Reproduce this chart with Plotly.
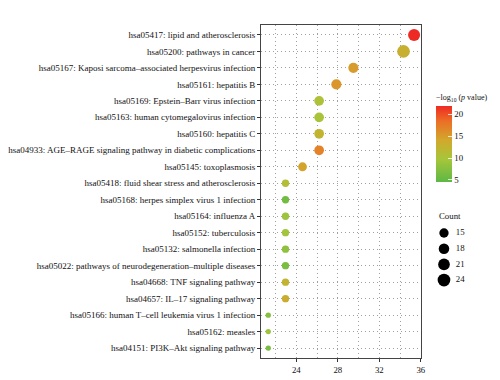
import plotly.graph_objects as go
import numpy as np

pathways = [
    "hsa05417: lipid and atherosclerosis",
    "hsa05200: pathways in cancer",
    "hsa05167: Kaposi sarcoma\u2013associated herpesvirus infection",
    "hsa05161: hepatitis B",
    "hsa05169: Epstein\u2013Barr virus infection",
    "hsa05163: human cytomegalovirus infection",
    "hsa05160: hepatitis C",
    "hsa04933: AGE\u2013RAGE signaling pathway in diabetic complications",
    "hsa05145: toxoplasmosis",
    "hsa05418: fluid shear stress and atherosclerosis",
    "hsa05168: herpes simplex virus 1 infection",
    "hsa05164: influenza A",
    "hsa05152: tuberculosis",
    "hsa05132: salmonella infection",
    "hsa05022: pathways of neurodegeneration\u2013multiple diseases",
    "hsa04668: TNF signaling pathway",
    "hsa04657: IL\u201317 signaling pathway",
    "hsa05166: human T\u2013cell leukemia virus 1 infection",
    "hsa05162: measles",
    "hsa04151: PI3K\u2013Akt signaling pathway",
]
x_values = [35.35, 34.33, 29.5, 27.86, 26.2, 26.2, 26.2, 26.2, 24.6,
            22.96, 22.96, 22.96, 22.96, 22.96, 22.96, 22.96, 22.96,
            21.3, 21.3, 21.3]
neg_log_p = [22.0, 13.0, 15.0, 15.5, 10.5, 10.0, 12.5, 17.0, 14.5,
             11.0, 6.0, 9.0, 9.5, 8.0, 6.5, 12.5, 13.5, 7.5, 9.0, 6.5]
counts = [22, 24, 17, 17, 16, 16, 16, 16, 14,
          11, 11, 11, 11, 11, 11, 11, 11, 8, 8, 8]
legend_counts = [15, 18, 21, 24]
x_ticks = [24, 28, 32, 36]
cbar_ticks = [5, 10, 15, 20]


def size_of(c):
    return float(np.sqrt(8.3 * c - 38.0))


colorscale = [
    [0.0, "#5DB845"],
    [0.3, "#A6C63A"],
    [0.55, "#D2A82C"],
    [0.8, "#EC6E26"],
    [1.0, "#EE2A24"],
]

FONT = "Liberation Serif"
FS = 8.8
FS_Y = 9
TXT = "#111111"
W, H = 500, 380
ML, MR, MT, MB = 253, 0, 17, 30
paper_w = W - ML - MR
paper_h = H - MT - MB
plot_w = 163

fig = go.Figure()
fig.add_trace(go.Scatter(
    x=x_values, y=pathways, mode="markers",
    marker=dict(
        size=[size_of(c) for c in counts],
        color=neg_log_p, colorscale=colorscale, cmin=4.5, cmax=22,
        line=dict(width=0), opacity=1,
        colorbar=dict(
            x=(431 - ML) / paper_w, xanchor="left", xpad=0, ypad=0,
            y=(H - MB - 128.5) / paper_h, yanchor="middle",
            len=91, lenmode="pixels", thickness=16, thicknessmode="pixels",
            outlinewidth=0, ticks="inside", ticklen=4, tickcolor="rgba(255,255,255,0.8)",
            tickvals=cbar_ticks, tickfont=dict(family=FONT, size=FS, color=TXT),
            title=dict(text="\u2212log<sub>10</sub> (<i>p</i> value)", side="top",
                       font=dict(family=FONT, size=8, color=TXT)),
        ),
    ),
    hoverinfo="skip", showlegend=False,
))

# size legend
leg_y0, leg_dy = 225 - MT, 15.7
fig.add_trace(go.Scatter(
    x=[8] * len(legend_counts),
    y=[leg_y0 + i * leg_dy for i in range(len(legend_counts))],
    mode="markers", marker=dict(size=[size_of(c) for c in legend_counts], color="#000000",
                                opacity=1, line=dict(width=0)),
    xaxis="x2", yaxis="y2", hoverinfo="skip", showlegend=False,
))
fig.add_trace(go.Scatter(
    x=[20] * len(legend_counts),
    y=[leg_y0 + i * leg_dy for i in range(len(legend_counts))],
    mode="text", text=[str(c) for c in legend_counts], textposition="middle right",
    textfont=dict(family=FONT, size=FS, color=TXT),
    xaxis="x2", yaxis="y2", hoverinfo="skip", showlegend=False,
))

grid = dict(showgrid=True, gridcolor="#A0A0A0", griddash="1px,3px", gridwidth=1)
fig.update_layout(
    width=W, height=H,
    margin=dict(l=ML, r=MR, t=MT, b=MB),
    paper_bgcolor="white", plot_bgcolor="white",
    font=dict(family=FONT, size=FS, color=TXT),
    xaxis=dict(
        domain=[0, plot_w / paper_w], range=[20.6, 36.05],
        tickvals=x_ticks, ticks="outside", ticklen=3, tickcolor="#333",
        showline=True, linecolor="#444", linewidth=1, mirror=True,
        zeroline=False, tickfont=dict(family=FONT, size=FS, color=TXT),
        minor=dict(dtick=2, tick0=0, showgrid=True, gridcolor="#A0A0A0", griddash="1px,3px", ticks=""),
        **grid,
    ),
    yaxis=dict(
        categoryorder="array", categoryarray=pathways,
        range=[len(pathways) - 0.4, -0.6],
        ticks="outside", ticklen=3, tickcolor="#333",
        showline=True, linecolor="#444", linewidth=1, mirror=True,
        zeroline=False, tickfont=dict(family=FONT, size=FS_Y, color=TXT),
        **grid,
    ),
    xaxis2=dict(domain=[(431 - ML) / paper_w, 1], range=[0, W - 431], visible=False, fixedrange=True),
    yaxis2=dict(domain=[0, 1], range=[paper_h, 0], visible=False, fixedrange=True, anchor="x2"),
    annotations=[dict(
        text="Count", xref="paper", yref="paper",
        x=(432 - ML) / paper_w, y=(H - MB - 208) / paper_h,
        xanchor="left", yanchor="middle", showarrow=False,
        font=dict(family=FONT, size=FS, color=TXT),
    )],
)

fig.write_html("out.html")
